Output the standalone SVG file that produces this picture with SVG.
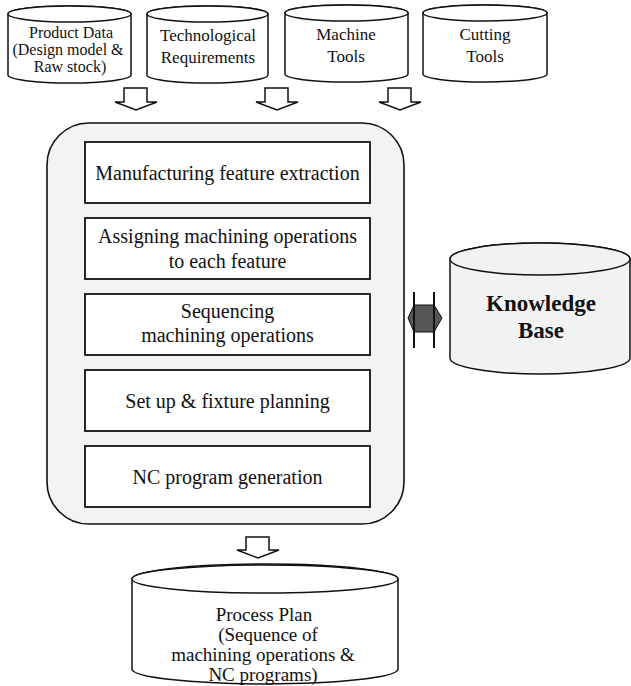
<svg xmlns="http://www.w3.org/2000/svg" width="631" height="686" viewBox="0 0 631 686">
<style>
  .cyl { fill: #ffffff; stroke: #111; stroke-width: 1.5; }
  .cylg { fill: #f2f2f2; stroke: #111; stroke-width: 1.5; }
  .box { fill: #ffffff; stroke: #111; stroke-width: 1.8; }
  .t { font-family: "Liberation Serif", "Times New Roman", serif; fill: #111; text-anchor: middle; }
  .s16 { font-size: 16px; }
  .s17 { font-size: 17px; }
  .s19 { font-size: 19px; }
  .s20 { font-size: 20px; }
  .kb { font-size: 23px; font-weight: bold; }
  .arr { fill: #ffffff; stroke: #111; stroke-width: 1.5; stroke-linejoin: miter; }
</style>
<rect width="631" height="686" fill="#ffffff"/>

<g id="product-data">
  <path class="cyl" d="M8,14 L8,75 A61.5,8 0 0 0 131,75 L131,14 A61.5,8 0 0 0 8,14 Z"/>
  <ellipse class="cyl" cx="69.5" cy="14" rx="61.5" ry="8"/>
  <text class="t s16" x="71" y="38">Product Data</text>
  <text class="t s16" x="68" y="55">(Design model &amp;</text>
  <text class="t s16" x="70" y="72">Raw stock)</text>
</g>
<g id="technological-requirements">
  <path class="cyl" d="M147,14 L147,75 A60.5,8 0 0 0 268,75 L268,14 A60.5,8 0 0 0 147,14 Z"/>
  <ellipse class="cyl" cx="207.5" cy="14" rx="60.5" ry="8"/>
  <text class="t s17" x="208" y="41">Technological</text>
  <text class="t s17" x="208" y="63">Requirements</text>
</g>
<g id="machine-tools">
  <path class="cyl" d="M285,13 L285,74 A61.5,8 0 0 0 408,74 L408,13 A61.5,8 0 0 0 285,13 Z"/>
  <ellipse class="cyl" cx="346.5" cy="13" rx="61.5" ry="8"/>
  <text class="t s17" x="346" y="40">Machine</text>
  <text class="t s17" x="346" y="62">Tools</text>
</g>
<g id="cutting-tools">
  <path class="cyl" d="M423,13 L423,74 A62,8 0 0 0 547,74 L547,13 A62,8 0 0 0 423,13 Z"/>
  <ellipse class="cyl" cx="485" cy="13" rx="62" ry="8"/>
  <text class="t s17" x="485" y="40">Cutting</text>
  <text class="t s17" x="485" y="62">Tools</text>
</g>

<g id="process-planning">
  <rect x="47" y="123" width="357" height="401" rx="42" ry="42" fill="#f3f3f3" stroke="#111" stroke-width="1.6"/>
</g>
<g id="feature-extraction">
  <rect class="box" x="85" y="142" width="285" height="61"/>
  <text class="t s20" x="227.5" y="180">Manufacturing feature extraction</text>
</g>
<g id="assigning-operations">
  <rect class="box" x="85" y="218" width="285" height="61"/>
  <text class="t s20" x="227.5" y="243">Assigning machining operations</text>
  <text class="t s20" x="227.5" y="268">to each feature</text>
</g>
<g id="sequencing">
  <rect class="box" x="85" y="294" width="285" height="61"/>
  <text class="t s20" x="227.5" y="318">Sequencing</text>
  <text class="t s20" x="227.5" y="342">machining operations</text>
</g>
<g id="setup-fixture">
  <rect class="box" x="85" y="370" width="285" height="61"/>
  <text class="t s20" x="227.5" y="408">Set up &amp; fixture planning</text>
</g>
<g id="nc-generation">
  <rect class="box" x="85" y="446" width="285" height="61"/>
  <text class="t s20" x="227.5" y="484">NC program generation</text>
</g>

<g id="knowledge-base">
  <path class="cylg" d="M450,259 L450,358 A90,16 0 0 0 630,358 L630,259 A90,16 0 0 0 450,259 Z"/>
  <ellipse class="cylg" cx="540" cy="259" rx="90" ry="16"/>
  <text class="t kb" x="541" y="311">Knowledge</text>
  <text class="t kb" x="541" y="338">Base</text>
</g>

<g id="process-plan">
  <path class="cyl" d="M132,579 L132,669 A133,15 0 0 0 398,669 L398,579 A133,15 0 0 0 132,579 Z"/>
  <ellipse class="cyl" cx="265" cy="579" rx="133" ry="14"/>
  <text class="t s19" x="264" y="621">Process Plan</text>
  <text class="t s19" x="268" y="641">(Sequence of</text>
  <text class="t s19" x="263" y="661">machining operations &amp;</text>
  <text class="t s19" x="263" y="681">NC programs)</text>
</g>

<g id="connectors">
  <polygon class="arr" points="124,88 147,88 147,102 157,102 136,110 115,102 124,102"/>
  <polygon class="arr" points="265,88 288,88 288,102 298,102 277,110 256,102 265,102"/>
  <polygon class="arr" points="388,88 411,88 411,102 421,102 400,110 379,102 388,102"/>
  <polygon class="arr" points="246,537 269,537 269,550 279,550 258,558 237,550 246,550"/>
  <g id="kb-link">
    <polygon points="408,318 414,305 434,305 442,318 434,332 414,332" fill="#555" stroke="#111" stroke-width="1"/>
    <line x1="414" y1="292" x2="414" y2="348" stroke="#111" stroke-width="2"/>
    <line x1="434" y1="292" x2="434" y2="348" stroke="#111" stroke-width="2"/>
  </g>
</g>
</svg>
